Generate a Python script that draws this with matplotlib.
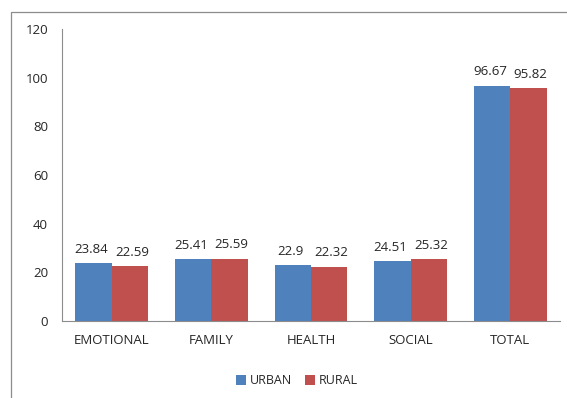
import numpy as np
import matplotlib
matplotlib.use("Agg")
from matplotlib import pyplot as plt
from matplotlib.patches import Rectangle

# Datos
categorias = ["EMOTIONAL", "FAMILY", "HEALTH", "SOCIAL", "TOTAL"]
urban = [23.84, 25.41, 22.9, 24.51, 96.67]
rural = [22.59, 25.59, 22.32, 25.32, 95.82]
etiquetas_urban = ["23.84", "25.41", "22.9", "24.51", "96.67"]
etiquetas_rural = ["22.59", "25.59", "22.32", "25.32", "95.82"]

azul = "#4F81BD"
rojo = "#C0504D"
texto = "#262626"

plt.rcParams['font.family'] = ['Open Sans', 'DejaVu Sans']

fig = plt.figure(figsize=(5.67, 3.98), dpi=100)
fig.patch.set_facecolor("white")

# marco del grafico
fig.patches.append(Rectangle((11 / 567, -0.1), 1.2, 1 - 12 / 398 + 0.1,
                             transform=fig.transFigure, fill=False,
                             edgecolor="#8c8c8c", linewidth=0.9))

ax = fig.add_axes([62 / 567, 1 - 321 / 398, 498 / 567, 292 / 398])

x = np.arange(len(categorias))
ancho = 0.366
b1 = ax.bar(x - ancho / 2, urban, ancho, color=azul, label="URBAN")
b2 = ax.bar(x + ancho / 2, rural, ancho, color=rojo, label="RURAL")

for barra, txt in zip(b1, etiquetas_urban):
    ax.text(barra.get_x() + barra.get_width() / 2 - 0.02, barra.get_height() + 3,
            txt, ha="center", va="bottom", fontsize=9.5, color=texto)
for barra, txt in zip(b2, etiquetas_rural):
    ax.text(barra.get_x() + barra.get_width() / 2 + 0.02, barra.get_height() + 3,
            txt, ha="center", va="bottom", fontsize=9.5, color=texto)

ax.set_xlim(-0.5, len(categorias) - 0.5)
ax.set_ylim(0, 120)
ax.set_yticks(range(0, 121, 20))
ax.set_xticks(x)
ax.set_xticklabels(categorias)
ax.tick_params(axis="both", length=0, labelsize=9.5, labelcolor=texto)
ax.tick_params(axis="x", pad=9)
ax.tick_params(axis="y", pad=10)

for lado in ["top", "right"]:
    ax.spines[lado].set_visible(False)
ax.spines["left"].set_color("#8c8c8c")
ax.spines["bottom"].set_color("#8c8c8c")

fig.legend(handles=[b1, b2], labels=["URBAN", "RURAL"], loc="center",
           bbox_to_anchor=(297 / 567, 1 - 381 / 398), ncol=2, frameon=False,
           fontsize=9, handlelength=0.8, handleheight=0.8, handletextpad=0.3,
           columnspacing=1.0, labelcolor=texto)

fig.savefig("out.png", dpi=100)
